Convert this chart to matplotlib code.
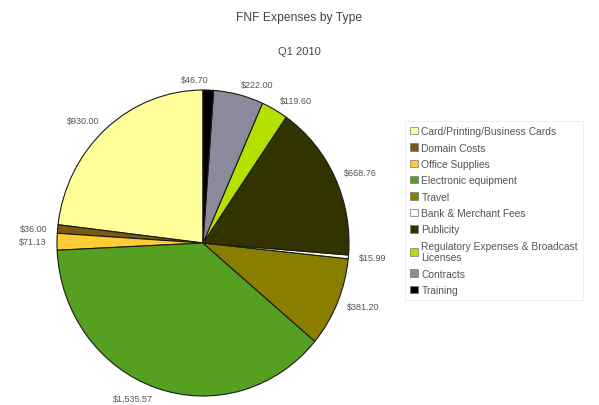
import matplotlib
matplotlib.use("Agg")
import matplotlib.pyplot as plt
from matplotlib.patches import Patch

plt.rcParams["font.family"] = ["Liberation Sans", "DejaVu Sans"]

# legend order = slice order (counter-clockwise from 12 o'clock)
categories = [
    "Card/Printing/Business Cards",
    "Domain Costs",
    "Office Supplies",
    "Electronic equipment",
    "Travel",
    "Bank & Merchant Fees",
    "Publicity",
    "Regulatory Expenses & Broadcast\nLicenses",
    "Contracts",
    "Training",
]
amounts = [930.00, 36.00, 71.13, 1535.57, 381.20, 15.99, 668.76, 119.60, 222.00, 46.70]
value_labels = ["$930.00", "$36.00", "$71.13", "$1,535.57", "$381.20",
                "$15.99", "$668.76", "$119.60", "$222.00", "$46.70"]
colors = ["#ffff99", "#7a5a10", "#ffcc33", "#55a020", "#8a7e00",
          "#ffffee", "#333300", "#b5e000", "#8a8a9a", "#000000"]

fig = plt.figure(figsize=(5.99, 4.06), dpi=100)
ax = fig.add_axes([57 / 599, 9 / 406, 292 / 599, 306 / 406])

wedges, texts = ax.pie(
    amounts,
    labels=value_labels,
    colors=colors,
    startangle=90,
    counterclock=True,
    labeldistance=1.07,
    wedgeprops=dict(edgecolor="#1a1a1a", linewidth=0.8),
    textprops=dict(fontsize=6.5, color="#555555"),
)
ax.set_aspect("auto")
ax.set_xlim(-1, 1)
ax.set_ylim(-1, 1)
# the tiny top slice's label sits to the left of the top
texts[-1].set_ha("right")

fig.text(0.5, 1 - 18 / 406, "FNF Expenses by Type", ha="center", va="center",
         fontsize=8.7, color="#444444")
fig.text(0.5, 1 - 52 / 406, "Q1 2010", ha="center", va="center",
         fontsize=8, color="#444444")

handles = [Patch(facecolor=c, edgecolor="#777777", linewidth=0.5) for c in colors]
leg = fig.legend(
    handles, categories,
    loc="upper left",
    bbox_to_anchor=(405 / 599, 1 - 122 / 406),
    borderaxespad=0,
    fontsize=7.4,
    frameon=True,
    fancybox=False,
    handlelength=0.75,
    handleheight=0.75,
    handletextpad=0.35,
    labelspacing=0.62,
    borderpad=0.5,
)
leg.get_frame().set_edgecolor("#e6e6e6")
leg.get_frame().set_linewidth(0.6)
for t in leg.get_texts():
    t.set_color("#555555")

fig.savefig("out.png", dpi=100)
